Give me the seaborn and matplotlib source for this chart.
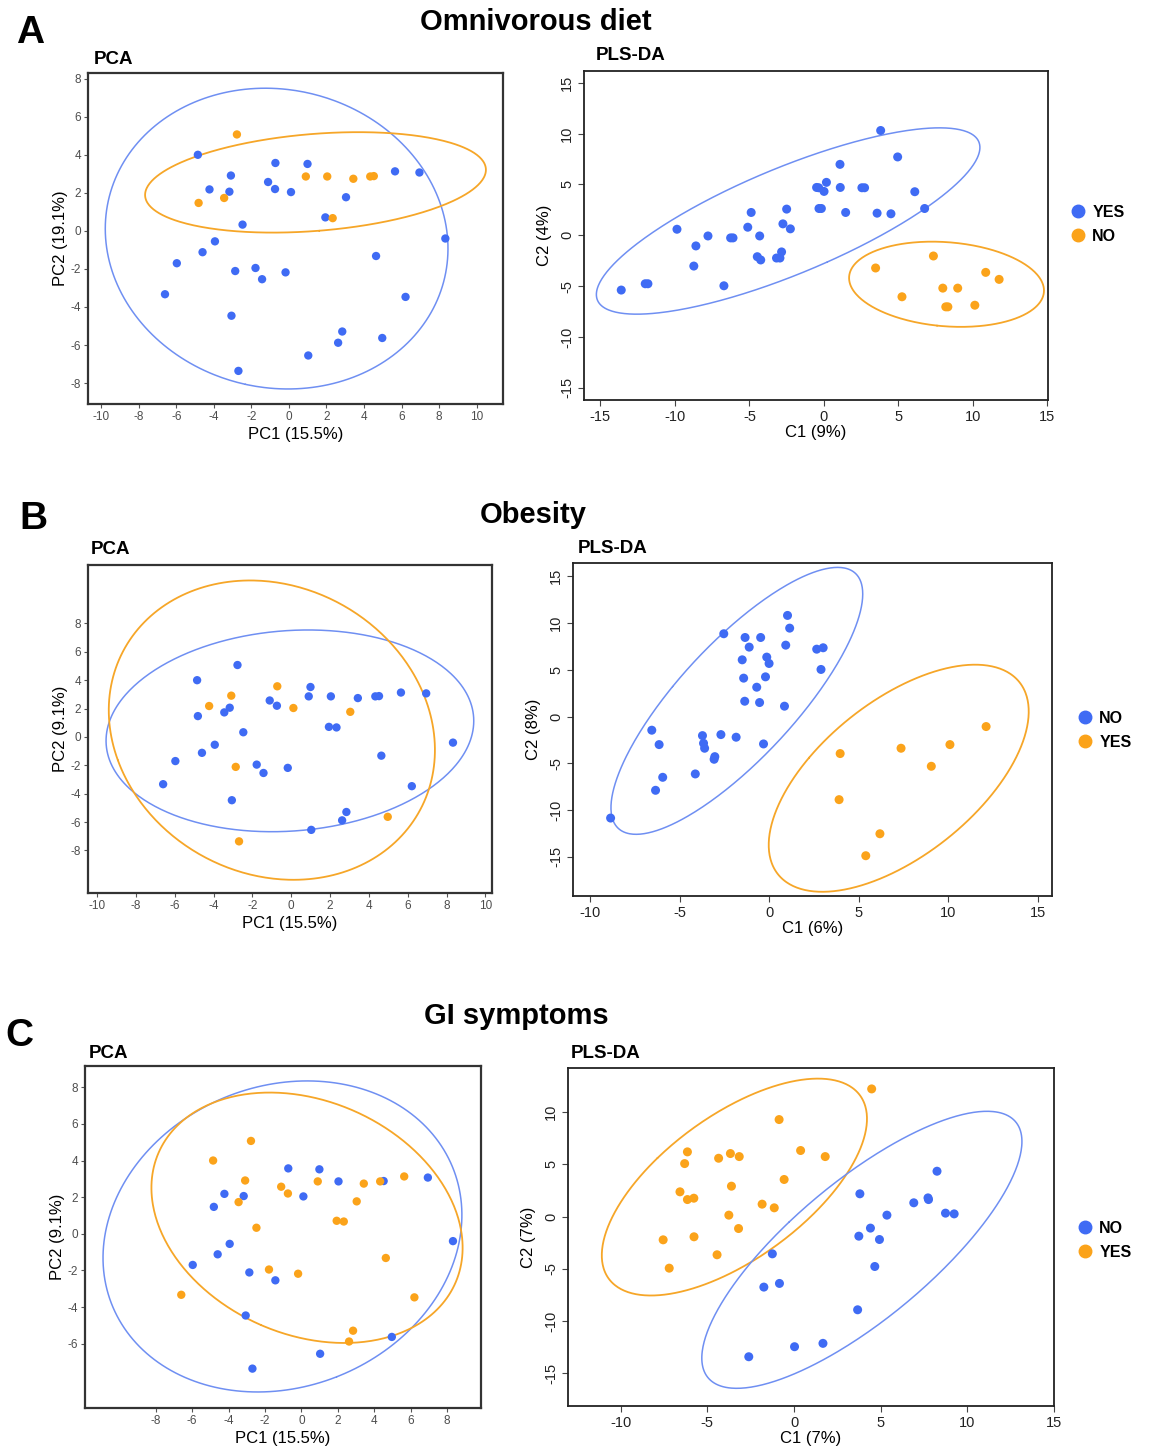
import numpy as np
import pandas as pd
import matplotlib
matplotlib.use("Agg")
import matplotlib.pyplot as plt
from matplotlib.lines import Line2D
import seaborn as sns

sns.set_style("white")
plt.rcParams['font.family'] = ['Liberation Sans', 'DejaVu Sans']
plt.rcParams['axes.unicode_minus'] = False
plt.rcParams['text.color'] = 'black'
plt.rcParams['axes.labelcolor'] = 'black'

BLUE = "#3F6BF4"
ORANGE = "#FBA31A"
BLUE_LINE = "#6F8FF2"
ORANGE_LINE = "#F6A628"

# ---------------- PCA scores (shared by the three PCA panels) ----------------
pca_x = [-4.85, -0.72, 0.99, -3.09, -4.23, -3.17, -1.11, -0.74, 0.11, 3.04,
         1.94, 5.65, 6.95, -2.47, -3.94, -4.60, -5.97, 8.33, 4.64, -2.86,
         -1.78, -1.43, -0.18, -6.60, 6.21, -3.06, 2.84, 2.62, 4.97, 1.03,
         -2.69, -2.77, -4.81, -3.45, 0.90, 2.04, 3.43, 4.33, 4.52, 2.33]
pca_y = [4.00, 3.57, 3.52, 2.91, 2.18, 2.06, 2.57, 2.20, 2.04, 1.77,
         0.71, 3.13, 3.07, 0.33, -0.55, -1.12, -1.70, -0.40, -1.32, -2.11,
         -1.95, -2.54, -2.18, -3.33, -3.47, -4.46, -5.29, -5.88, -5.63, -6.55,
         -7.36, 5.07, 1.47, 1.73, 2.86, 2.86, 2.74, 2.86, 2.88, 0.67]
omnivorous = ["YES", "YES", "YES", "YES", "YES", "YES", "YES", "YES", "YES", "YES",
              "YES", "YES", "YES", "YES", "YES", "YES", "YES", "YES", "YES", "YES",
              "YES", "YES", "YES", "YES", "YES", "YES", "YES", "YES", "YES", "YES",
              "YES", "NO", "NO", "NO", "NO", "NO", "NO", "NO", "NO", "NO"]
obesity = ["NO", "YES", "NO", "YES", "YES", "NO", "NO", "NO", "YES", "YES",
           "NO", "NO", "NO", "NO", "NO", "NO", "NO", "NO", "NO", "YES",
           "NO", "NO", "NO", "NO", "NO", "NO", "NO", "NO", "YES", "NO",
           "YES", "NO", "NO", "NO", "NO", "NO", "NO", "NO", "NO", "NO"]
gi_symptoms = ["YES", "NO", "NO", "YES", "NO", "NO", "YES", "YES", "NO", "YES",
               "YES", "YES", "NO", "YES", "NO", "NO", "NO", "NO", "YES", "NO",
               "YES", "NO", "YES", "YES", "YES", "NO", "YES", "YES", "NO", "NO",
               "NO", "YES", "NO", "YES", "YES", "NO", "YES", "YES", "NO", "YES"]

# ---------------- PLS-DA scores ----------------
plsA_yes_x = [3.81, 4.95, 1.08, 0.17, -0.49, -0.35, 0.01, 1.10, 2.55, 2.73, 6.10,
              -0.33, -0.17, 1.46, 3.57, 4.50, 6.76, -4.88, -2.50, -5.11, -2.75,
              -2.25, -9.86, -7.78, -6.26, -6.10, -4.31, -8.59, -2.84, -4.47, -4.24,
              -3.18, -2.95, -8.73, -6.71, -11.99, -11.81, -13.60]
plsA_yes_y = [10.30, 7.70, 6.97, 5.20, 4.70, 4.67, 4.31, 4.70, 4.67, 4.67, 4.28,
              2.63, 2.63, 2.24, 2.17, 2.11, 2.63, 2.24, 2.57, 0.79, 1.12,
              0.63, 0.59, -0.07, -0.26, -0.26, -0.07, -1.05, -1.64, -2.11, -2.43,
              -2.24, -2.24, -3.03, -4.97, -4.77, -4.77, -5.39]
plsA_no_x = [7.35, 3.47, 10.86, 11.76, 7.98, 8.98, 5.24, 8.18, 8.32, 10.13]
plsA_no_y = [-2.04, -3.22, -3.65, -4.34, -5.20, -5.20, -6.05, -7.04, -7.04, -6.88]

plsB_no_x = [1.03, 1.15, -2.53, -1.34, -0.47, -1.11, 0.93, 2.66, 3.02, -1.50, -0.13,
             0.00, 2.90, -1.42, -0.20, -0.69, -1.36, -0.53, 0.86, -6.55, -6.14,
             -3.72, -3.66, -3.60, -2.69, -1.84, -0.31, -3.03, -3.07, -5.94, -4.12,
             -6.34, -8.85]
plsB_no_y = [10.82, 9.46, 8.86, 8.46, 8.46, 7.43, 7.64, 7.21, 7.36, 6.07, 6.36,
             5.68, 5.04, 4.11, 4.25, 3.14, 1.64, 1.50, 1.11, -1.46, -3.00,
             -2.04, -2.86, -3.39, -1.93, -2.21, -2.93, -4.29, -4.57, -6.50, -6.14,
             -7.89, -10.86]
plsB_yes_x = [12.12, 10.10, 7.37, 3.97, 9.06, 3.91, 6.19, 5.40]
plsB_yes_y = [-1.07, -3.00, -3.39, -3.96, -5.32, -8.89, -12.54, -14.89]

plsC_yes_x = [4.48, -0.86, -6.15, -6.31, -4.35, -3.67, -3.16, 0.38, 1.80, -0.57, -3.61,
              -6.58, -6.15, -5.78, -1.84, -1.14, -3.76, -3.20, -5.77, -7.55, -4.44, -7.20]
plsC_yes_y = [12.20, 9.27, 6.18, 5.06, 5.57, 6.02, 5.73, 6.31, 5.73, 3.54, 2.90,
              2.36, 1.62, 1.75, 1.18, 0.83, 0.13, -1.15, -1.94, -2.23, -3.66, -4.94]
plsC_no_x = [8.25, 3.80, 6.91, 7.73, 7.76, 8.74, 9.24, 5.36, 4.41, 3.74, 4.93, 4.66,
             -1.25, -1.74, -0.84, 3.67, 1.67, 0.03, -2.61]
plsC_no_y = [4.33, 2.17, 1.31, 1.78, 1.62, 0.32, 0.25, 0.13, -1.11, -1.88, -2.20, -4.78,
             -3.57, -6.75, -6.40, -8.92, -12.13, -12.45, -13.41]

# ---------------- confidence ellipses ----------------
# (centre x, centre y, half x-extent, half y-extent, y-offset of rightmost point)
ell_A_pca = {"YES": (-0.655, -0.405, 9.125, 7.905, -0.52), "NO": (1.415, 2.55, 9.075, 2.64, 0.66)}
ell_A_pls = {"YES": (-2.40, 1.40, 12.87, 9.16, 7.23), "NO": (8.23, -4.82, 6.54, 4.19, -0.62)}
ell_B_pca = {"NO": (-0.07, 0.43, 9.47, 7.11, 0.70), "YES": (-1.00, 0.48, 8.40, 10.55, -1.40)}
ell_B_pls = {"NO": (-1.80, 1.68, 7.03, 14.28, 11.43), "YES": (7.24, -6.60, 7.26, 12.15, 7.14)}
ell_C_pca = {"NO": (-1.04, -0.145, 9.86, 8.49, 1.17), "YES": (0.31, 0.875, 8.55, 6.835, -1.635)}
ell_C_pls = {"YES": (-3.44, 2.815, 7.65, 10.37, 6.53), "NO": (3.915, -3.185, 9.235, 13.245, 10.35)}

W, H = 1152, 1447
fig = plt.figure(figsize=(W / 100, H / 100), dpi=100)


def add_ax(l, r, t, b):
    return fig.add_axes([l / W, 1 - b / H, (r - l) / W, (b - t) / H])


def ellipse(ax, params, color, lw):
    cx, cy, xh, yh, ry = params
    sxy = ry * xh
    M = np.array([[xh ** 2, sxy], [sxy, yh ** 2]])
    vals, vecs = np.linalg.eigh(M)
    t = np.linspace(0, 2 * np.pi, 400)
    pts = vecs @ (np.sqrt(vals)[:, None] * np.vstack([np.cos(t), np.sin(t)]))
    ax.plot(cx + pts[0], cy + pts[1], color=color, lw=lw, zorder=1)


def style_pca(ax, xt, yt, xl, yl, xlabel, ylabel):
    ax.set_xlim(*xl)
    ax.set_ylim(*yl)
    ax.set_xticks(xt)
    ax.set_yticks(yt)
    ax.tick_params(axis='both', direction='out', length=3, width=0.8, color="#555555",
                   labelsize=8.5, labelcolor="#4D4D4D", pad=2, bottom=True, left=True)
    for s in ax.spines.values():
        s.set_color("#333333")
        s.set_linewidth(1.6)
    ax.set_xlabel(xlabel, fontsize=12, labelpad=3)
    ax.set_ylabel(ylabel, fontsize=12, labelpad=2)


def style_pls(ax, xt, yt, xl, yl, xlabel, ylabel):
    ax.set_xlim(*xl)
    ax.set_ylim(*yl)
    ax.set_xticks(xt)
    ax.set_yticks(yt)
    ax.tick_params(axis='both', direction='out', length=4, width=0.8, color="#444444",
                   labelsize=10.5, labelcolor="#222222", pad=3, bottom=True, left=True)
    for lab in ax.get_yticklabels():
        lab.set_rotation(90)
        lab.set_va('center')
    for s in ax.spines.values():
        s.set_color("#222222")
        s.set_linewidth(1.3)
    ax.set_xlabel(xlabel, fontsize=12, labelpad=1)
    ax.set_ylabel(ylabel, fontsize=12, labelpad=6)


def scatter(ax, xs, ys, groups, palette, size, order):
    df = pd.DataFrame({"x": xs, "y": ys, "g": groups})
    for g in order:
        sub = df[df["g"] == g]
        sns.scatterplot(data=sub, x="x", y="y", color=palette[g], s=size,
                        edgecolor="none", legend=False, ax=ax, zorder=3)


def draw_pca(ax, groups, palette, ells, order):
    scatter(ax, pca_x, pca_y, groups, palette, 36, order)
    for g, p in ells.items():
        ellipse(ax, p, BLUE_LINE if palette[g] == BLUE else ORANGE_LINE,
                1.1 if palette[g] == BLUE else 1.3)


def draw_pls(ax, sets, palette, ells):
    for g, (xs, ys) in sets.items():
        scatter(ax, xs, ys, [g] * len(xs), palette, 42, [g])
    for g, p in ells.items():
        ellipse(ax, p, BLUE_LINE if palette[g] == BLUE else ORANGE_LINE,
                1.1 if palette[g] == BLUE else 1.3)


palA = {"YES": BLUE, "NO": ORANGE}
palBC = {"NO": BLUE, "YES": ORANGE}

# ---------- Row A ----------
ax = add_ax(88, 503, 73, 404)
draw_pca(ax, omnivorous, palA, ell_A_pca, ["YES", "NO"])
style_pca(ax, [-10, -8, -6, -4, -2, 0, 2, 4, 6, 8, 10], [-8, -6, -4, -2, 0, 2, 4, 6, 8],
          (-10.7, 11.4), (-9.1, 8.3), "PC1 (15.5%)", "PC2 (19.1%)")

ax = add_ax(584, 1048, 71, 400)
draw_pls(ax, {"YES": (plsA_yes_x, plsA_yes_y), "NO": (plsA_no_x, plsA_no_y)}, palA, ell_A_pls)
style_pls(ax, [-15, -10, -5, 0, 5, 10, 15], [-15, -10, -5, 0, 5, 10, 15],
          (-16.1, 15.04), (-16.2, 16.15), "C1 (9%)", "C2 (4%)")

# ---------- Row B ----------
ax = add_ax(88, 492, 565, 893)
draw_pca(ax, obesity, palBC, ell_B_pca, ["NO", "YES"])
style_pca(ax, [-10, -8, -6, -4, -2, 0, 2, 4, 6, 8, 10], [-8, -6, -4, -2, 0, 2, 4, 6, 8],
          (-10.47, 10.34), (-11.0, 12.12), "PC1 (15.5%)", "PC2 (9.1%)")

ax = add_ax(573, 1052, 563, 896)
draw_pls(ax, {"NO": (plsB_no_x, plsB_no_y), "YES": (plsB_yes_x, plsB_yes_y)}, palBC, ell_B_pls)
style_pls(ax, [-10, -5, 0, 5, 10, 15], [-15, -10, -5, 0, 5, 10, 15],
          (-10.95, 15.8), (-19.2, 16.43), "C1 (6%)", "C2 (8%)")

# ---------- Row C ----------
ax = add_ax(85, 481, 1066, 1408)
draw_pca(ax, gi_symptoms, palBC, ell_C_pca, ["NO", "YES"])
style_pca(ax, [-8, -6, -4, -2, 0, 2, 4, 6, 8], [-6, -4, -2, 0, 2, 4, 6, 8],
          (-11.89, 9.87), (-9.51, 9.16), "PC1 (15.5%)", "PC2 (9.1%)")

ax = add_ax(568, 1054, 1068, 1406)
draw_pls(ax, {"YES": (plsC_yes_x, plsC_yes_y), "NO": (plsC_no_x, plsC_no_y)}, palBC, ell_C_pls)
style_pls(ax, [-10, -5, 0, 5, 10, 15], [-15, -10, -5, 0, 5, 10],
          (-13.04, 15.0), (-18.12, 14.2), "C1 (7%)", "C2 (7%)")


# ---------- headings ----------
def ftext(x, y, s, size, ha='left'):
    fig.text(x / W, 1 - y / H, s, fontsize=size, fontweight='bold', ha=ha, va='center',
             color='black')


ftext(30, 33, "A", 28, 'center')
ftext(536, 22, "Omnivorous diet", 21, 'center')
ftext(94, 60, "PCA", 13.5)
ftext(596, 55, "PLS-DA", 13.5)

ftext(33, 519, "B", 28, 'center')
ftext(533, 515, "Obesity", 21, 'center')
ftext(91, 550, "PCA", 13.5)
ftext(578, 549, "PLS-DA", 13.5)

ftext(19, 1036, "C", 28, 'center')
ftext(516, 1016, "GI symptoms", 21, 'center')
ftext(89, 1053, "PCA", 13.5)
ftext(571, 1053, "PLS-DA", 13.5)


# ---------- legends ----------
def legend(x, y, labels, colors):
    handles = [Line2D([], [], ls='none', marker='o', markersize=9, color=c) for c in colors]
    leg = fig.legend(handles, labels, loc='upper left', bbox_to_anchor=(x / W, 1 - y / H),
                     frameon=False, handletextpad=0.4, labelspacing=0.55, borderpad=0,
                     handlelength=1.0, prop={'weight': 'bold', 'size': 11.5})
    for t in leg.get_texts():
        t.set_color('black')


legend(1062, 197, ["YES", "NO"], [BLUE, ORANGE])
legend(1069, 703, ["NO", "YES"], [BLUE, ORANGE])
legend(1069, 1213, ["NO", "YES"], [BLUE, ORANGE])

fig.savefig("out.png", dpi=100)
